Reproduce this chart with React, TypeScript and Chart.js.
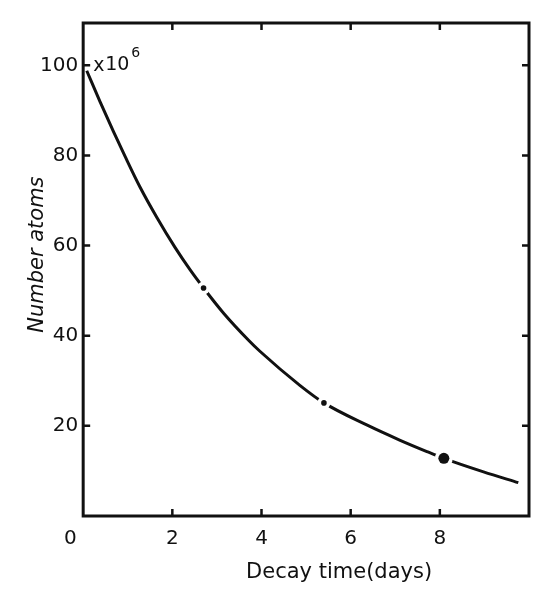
import { useEffect, useRef } from 'react';
import { Chart, registerables } from 'chart.js';

Chart.register(...registerables);

// Decay curve (days, millions of atoms)
const DECAY_DAYS = [0.08, 0.38, 0.68, 0.94, 1.28, 1.65, 2.06, 2.4, 2.7, 3.15, 3.71, 3.97, 4.86, 5.4, 6.36, 7.11, 7.71, 8.09, 8.98, 9.76];
const ATOMS_MILLIONS = [98.8, 91.9, 85.3, 79.8, 72.9, 66.3, 59.6, 54.6, 50.6, 45.0, 39.0, 36.5, 29.0, 25.1, 20.2, 16.8, 14.3, 12.8, 9.8, 7.4];
// Half-life marks on the curve
const HALF_LIFE_DAYS = [2.7, 5.4, 8.09];
const HALF_LIFE_ATOMS = [50.6, 25.1, 12.8];
// Axes
const X_TICKS = [0, 2, 4, 6, 8];
const X_TICK_LABELS = ['0', '2', '4', '6', '8'];
const Y_TICKS = [20, 40, 60, 80, 100];
const Y_TICK_LABELS = ['20', '40', '60', '80', '100'];
const X_TITLE = 'Decay time(days)';
const Y_TITLE = 'Number atoms';
const Y_UNIT_X = 'x';
const Y_UNIT_BASE = '10';
const Y_UNIT_EXP = '6';

const FONT = '"DejaVu Sans", sans-serif';

const framePlugin = {
  id: 'frame',
  afterDraw(chart: any) {
    const { ctx, chartArea: a, scales } = chart;
    const xs = scales.x;
    const ys = scales.y;
    ctx.save();
    ctx.strokeStyle = '#111';
    ctx.lineWidth = 3;
    ctx.strokeRect(a.left, a.top, a.right - a.left, a.bottom - a.top);
    ctx.lineWidth = 2.5;
    const tl = 7;
    ctx.beginPath();
    X_TICKS.forEach((v) => {
      if (v === 0) return;
      const px = xs.getPixelForValue(v);
      ctx.moveTo(px, a.bottom);
      ctx.lineTo(px, a.bottom - tl);
      ctx.moveTo(px, a.top);
      ctx.lineTo(px, a.top + tl);
    });
    Y_TICKS.forEach((v) => {
      const py = ys.getPixelForValue(v);
      ctx.moveTo(a.left, py);
      ctx.lineTo(a.left + tl, py);
      ctx.moveTo(a.right, py);
      ctx.lineTo(a.right - tl, py);
    });
    ctx.stroke();

    ctx.fillStyle = '#111';
    // x title
    ctx.font = `21px ${FONT}`;
    ctx.textAlign = 'center';
    ctx.textBaseline = 'alphabetic';
    ctx.fillText(X_TITLE, (a.left + a.right) / 2 + 33, a.bottom + 62);
    // y title
    ctx.save();
    ctx.translate(a.left - 40, ys.getPixelForValue(58));
    ctx.rotate(-Math.PI / 2);
    ctx.font = `italic 21px ${FONT}`;
    ctx.fillText(Y_TITLE, 0, 0);
    ctx.restore();
    // unit
    const y100 = ys.getPixelForValue(100);
    ctx.textAlign = 'left';
    ctx.textBaseline = 'middle';
    ctx.font = `19px ${FONT}`;
    ctx.fillText(Y_UNIT_X, a.left + 10, y100 + 1);
    ctx.fillText(Y_UNIT_BASE, a.left + 22, y100);
    const w = ctx.measureText(Y_UNIT_BASE).width;
    ctx.font = `14px ${FONT}`;
    ctx.fillText(Y_UNIT_EXP, a.left + 24 + w, y100 - 12);
    ctx.restore();
  },
};

export default function App() {
  const ref = useRef<HTMLCanvasElement>(null);
  useEffect(() => {
    const canvas = ref.current!;
    const chart = new Chart(canvas, {
      type: 'line',
      data: {
        datasets: [
          {
            type: 'scatter',
            data: HALF_LIFE_DAYS.map((x, i) => ({ x, y: HALF_LIFE_ATOMS[i] })),
            pointRadius: (c: any) => (c.dataIndex === 2 ? 5.5 : 2.8),
            backgroundColor: '#111',
            borderWidth: 0,
            order: 1,
          } as any,
          {
            type: 'scatter',
            data: HALF_LIFE_DAYS.map((x, i) => ({ x, y: HALF_LIFE_ATOMS[i] })),
            pointRadius: (c: any) => (c.dataIndex === 2 ? 9 : 6.5),
            backgroundColor: '#ffffff',
            borderWidth: 0,
            order: 2,
          } as any,
          {
            type: 'line',
            data: DECAY_DAYS.map((x, i) => ({ x, y: ATOMS_MILLIONS[i] })),
            borderColor: '#111',
            borderWidth: 3,
            pointRadius: 0,
            cubicInterpolationMode: 'monotone',
            fill: false,
            order: 3,
          } as any,
        ],
      },
      options: {
        responsive: false,
        animation: false,
        layout: { padding: { left: 35, right: 25, top: 23, bottom: 32 } },
        plugins: { legend: { display: false }, tooltip: { enabled: false } },
        scales: {
          x: {
            type: 'linear',
            min: 0,
            max: 10,
            afterBuildTicks: (s: any) => {
              s.ticks = X_TICKS.map((value) => ({ value }));
            },
            ticks: {
              padding: 11,
              color: '#111',
              font: { family: FONT, size: 20 },
              maxRotation: 0,
              callback: (v: any) => {
                const i = X_TICKS.indexOf(Number(v));
                if (i < 0) return '';
                return i === 0 ? X_TICK_LABELS[i] + '    ' : X_TICK_LABELS[i];
              },
            },
            grid: { display: false, drawTicks: false },
            border: { display: false },
          },
          y: {
            type: 'linear',
            min: 0,
            max: 109.4,
            afterBuildTicks: (s: any) => {
              s.ticks = Y_TICKS.map((value) => ({ value }));
            },
            ticks: {
              padding: 5,
              color: '#111',
              font: { family: FONT, size: 20 },
              callback: (v: any) => {
                const i = Y_TICKS.indexOf(Number(v));
                return i < 0 ? '' : Y_TICK_LABELS[i];
              },
            },
            grid: { display: false, drawTicks: false },
            border: { display: false },
          },
        },
      },
      plugins: [framePlugin],
    } as any);
    return () => chart.destroy();
  }, []);
  return (
    <div style={{ position: 'absolute', left: 0, top: 0, width: 554, height: 594, background: '#fff' }}>
      <canvas ref={ref} width={554} height={594} style={{ width: 554, height: 594 }} />
    </div>
  );
}
